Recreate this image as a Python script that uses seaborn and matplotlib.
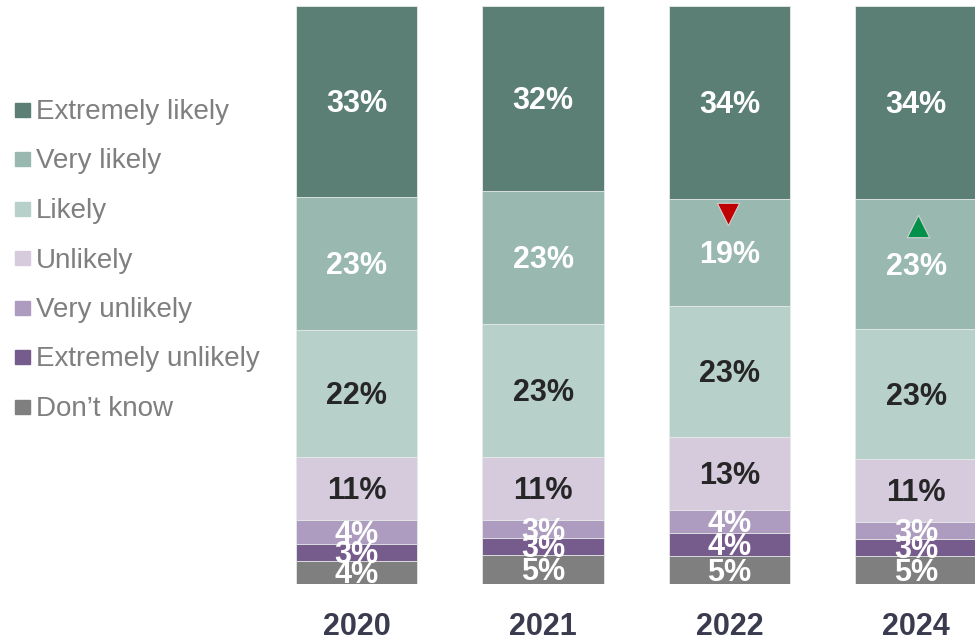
import numpy as np
import pandas as pd
import matplotlib
matplotlib.use("Agg")
import matplotlib.pyplot as plt
from matplotlib.patches import Rectangle
import seaborn as sns

# ------------------------------
# Data (shares in %, as printed on the chart)
# ------------------------------
years = ["2020", "2021", "2022", "2024"]
categories = ["Don\u2019t know", "Extremely unlikely", "Very unlikely", "Unlikely",
              "Likely", "Very likely", "Extremely likely"]
dont_know = [4, 5, 5, 5]
extremely_unlikely = [3, 3, 4, 3]
very_unlikely = [4, 3, 4, 3]
unlikely = [11, 11, 13, 11]
likely = [22, 23, 23, 23]
very_likely = [23, 23, 19, 23]
extremely_likely = [33, 32, 34, 34]
# significant change markers on "Very likely"
very_likely_change = [None, None, "down", "up"]

colors = ["#7f7f7f", "#765b8d", "#ad9cc0", "#d5cbdd", "#b8d0ca", "#98b8b0", "#5b7f74"]
label_colors = ["white", "white", "white", "#262626", "#262626", "white", "white"]

series = [dont_know, extremely_unlikely, very_unlikely, unlikely,
          likely, very_likely, extremely_likely]
df = pd.DataFrame(np.array(series).T, columns=categories, index=years)
# each bar is scaled to fill 100%
shares = df.div(df.sum(axis=1), axis=0) * 100
cum = shares.cumsum(axis=1)

sns.set_style("white")
plt.rcParams["font.family"] = ["Liberation Sans", "DejaVu Sans"]

fig = plt.figure(figsize=(9.75, 6.4), dpi=100)
ax = fig.add_axes([0.2413, 0.0875, 0.7587, 0.903])

# draw cumulative totals from the top down so each layer covers the next
for i in range(len(categories) - 1, -1, -1):
    cat = categories[i]
    sns.barplot(x=years, y=cum[cat].values, color=colors[i], width=0.65,
                saturation=1, edgecolor="#e8ecea", linewidth=0.6, ax=ax)

# value labels in the middle of each segment
for i, cat in enumerate(categories):
    for j, yr in enumerate(years):
        mid = cum[cat].iloc[j] - shares[cat].iloc[j] / 2
        ax.annotate(f"{df[cat].iloc[j]}%", (j, mid), xytext=(0, -2),
                    textcoords="offset points", ha="center", va="center",
                    fontsize=22, fontweight="bold", color=label_colors[i])

# change arrows on "Very likely"
for j, ch in enumerate(very_likely_change):
    if ch is None:
        continue
    mid = cum["Very likely"].iloc[j] - shares["Very likely"].iloc[j] / 2
    if ch == "down":
        ax.scatter(j - 0.01, mid + 6.6, marker="v", s=260, color="#c00000",
                   edgecolor="#d0d0d0", linewidth=0.8, zorder=5)
    else:
        ax.scatter(j + 0.01, mid + 6.6, marker="^", s=260, color="#00904a",
                   edgecolor="#d0d0d0", linewidth=0.8, zorder=5)

ax.set_xlim(-0.65, 3.316)
ax.set_ylim(0, 100)
ax.set_yticks([])
ax.set_xlabel("")
ax.set_ylabel("")
ax.tick_params(axis="x", length=0, pad=20)
for lbl in ax.get_xticklabels():
    lbl.set_fontsize(22)
    lbl.set_fontweight("bold")
    lbl.set_color("#3b3b50")
sns.despine(ax=ax, left=True, bottom=True)

# legend, top entry first
legend_y = [109.5, 159, 208.5, 258, 307.5, 357, 406.5]
for k, i in enumerate(range(len(categories) - 1, -1, -1)):
    yc = 1 - legend_y[k] / 640
    fig.add_artist(Rectangle((15 / 975, yc - 7 / 640), 15 / 975, 14 / 640,
                             transform=fig.transFigure, color=colors[i]))
    fig.text(36 / 975, yc - 2.5 / 640, categories[i], ha="left", va="center",
             fontsize=20, color="#7f7f7f")

plt.savefig("out.png", dpi=100)
